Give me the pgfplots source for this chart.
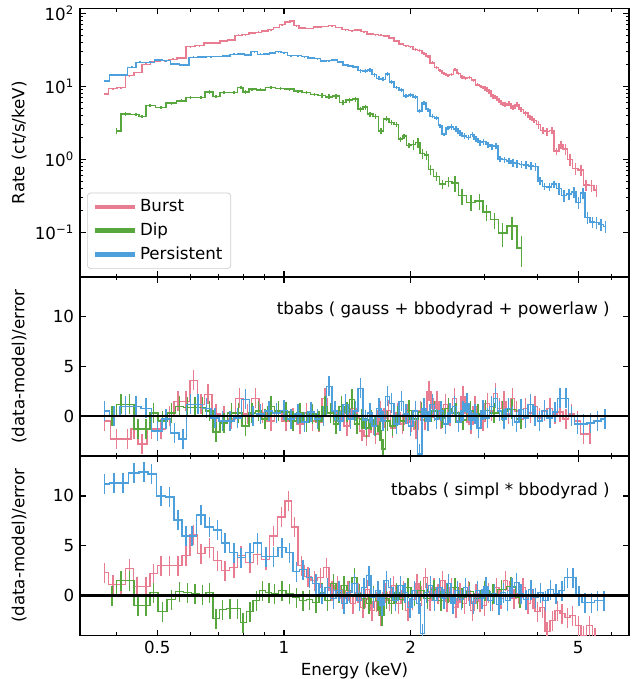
\documentclass[border=0pt]{standalone}
\usepackage{fontspec}
\setmainfont{DejaVu Sans}
\usepackage{pgfplots}
\pgfplotsset{compat=1.18}

\definecolor{cburst}{RGB}{232,125,145}
\definecolor{cdip}{RGB}{88,166,62}
\definecolor{cpers}{RGB}{77,160,220}
\definecolor{legframe}{RGB}{204,204,204}

\pgfplotsset{
  every axis/.append style={
    scale only axis, width=329.4pt,
    xmin=0.3276, xmax=6.6,
    tick align=inside,
    major tick length=3.5pt, minor tick length=2pt,
    axis line style={line width=0.8pt},
    every tick/.append style={black, line width=0.8pt},
    every minor tick/.append style={line width=0.6pt},
  },
  sline/.style={const plot mark mid, mark=none, line width=0.9pt,
    error bars/y dir=both, error bars/error mark=none,
    error bars/error bar style={line width=0.9pt}},
}

\begin{document}
\begin{tikzpicture}
\useasboundingbox (-48pt,-26.1pt) rectangle (330.6pt,381.3pt);

% ---------- top: count rate spectra ----------
\begin{axis}[at={(0,215.1pt)}, height=161.2pt,
  xmode=log, ymode=log, ymin=0.0247, ymax=117,
  xtick={0.5,1,2,5}, minor xtick={0.4,0.6,0.7,0.8,0.9,3,4,6},
  xticklabels={},
  ytick={0.1,1,10,100},
  yticklabels={10\textsuperscript{−1},10\textsuperscript{0},10\textsuperscript{1},10\textsuperscript{2}},
  ylabel={Rate (ct/s/keV)},
  ylabel style={at={(axis description cs:-0.111,0.5)}, anchor=center},
  legend image code/.code={\draw[line width=2.6pt] (0pt,0pt) -- (24pt,0pt);},
  legend cell align=left,
  legend style={at={(0.0128,0.03)}, anchor=south west, draw=legframe,
    rounded corners=2pt, fill=white, fill opacity=0.8, text opacity=1,
    inner xsep=3pt, inner ysep=2pt, row sep=1.2pt},
]
\addplot[sline, cburst, error bars/y explicit relative] table[y error index=2] {
0.375 7.9 0.03
0.392 9.3 0.03
0.41 9.6 0.03
0.43 14.0 0.03
0.45 15.5 0.03
0.47 20.0 0.03
0.495 22.0 0.03
0.52 22.5 0.03
0.545 23.5 0.03
0.57 24.5 0.03
0.60 35.0 0.03
0.63 36.0 0.03
0.66 39.0 0.03
0.69 39.5 0.03
0.72 42.0 0.03
0.75 43.0 0.03
0.78 50.0 0.03
0.81 51.0 0.03
0.84 54.0 0.03
0.87 55.0 0.03
0.90 57.0 0.03
0.93 60.0 0.03
0.96 64.0 0.03
0.99 70.0 0.03
1.02 76.0 0.03
1.045 78.0 0.03
1.07 68.0 0.03
1.10 63 0.03
1.15 62 0.03
1.20 65 0.03
1.25 66 0.03
1.30 68 0.03
1.35 64 0.03
1.40 60 0.03
1.45 58 0.03
1.50 59 0.03
1.55 56 0.03
1.60 52 0.03
1.65 51 0.03
1.70 50 0.03
1.75 49 0.03
1.80 46 0.03
1.85 42 0.03
1.90 38 0.03
1.95 36 0.03
2.00 35 0.03
2.05 32 0.05
2.10 31 0.05
2.15 28 0.05
2.20 26 0.05
2.25 21 0.05
2.30 18 0.05
2.35 16.5 0.05
2.40 15 0.05
2.45 14 0.05
2.50 14.5 0.05
2.55 17 0.05
2.60 15 0.05
2.65 13.5 0.05
2.70 13 0.05
2.76 13.2 0.05
2.82 12.2 0.05
2.88 10.5 0.05
2.94 10 0.05
3.00 9.5 0.08
3.07 8.6 0.08
3.14 7.4 0.08
3.21 6.8 0.08
3.28 6.0 0.08
3.35 5.6 0.08
3.42 5.8 0.08
3.50 5.1 0.08
3.58 5.6 0.08
3.66 4.8 0.08
3.75 4.3 0.08
3.84 3.8 0.08
3.93 3.4 0.08
4.02 3.0 0.12
4.12 2.5 0.12
4.22 2.4 0.12
4.33 2.5 0.12
4.44 1.3 0.12
4.55 1.6 0.12
4.66 1.4 0.18
4.78 1.0 0.18
4.92 0.75 0.18
5.07 0.72 0.18
5.22 0.45 0.18
5.38 0.44 0.18
5.53 0.38 0.18
};
\addlegendentry{Burst}
\addplot[sline, cdip, error bars/y explicit relative] table[y error index=2] {
0.40 2.46 0.08
0.42 4.2 0.05
0.445 4.1 0.05
0.46 3.9 0.05
0.48 5.5 0.05
0.51 5.15 0.05
0.54 5.9 0.05
0.57 6.35 0.05
0.60 7.0 0.05
0.635 7.1 0.05
0.665 8.4 0.05
0.69 7.3 0.05
0.72 8.2 0.05
0.76 8.3 0.05
0.79 9.7 0.05
0.81 8.4 0.05
0.84 9.2 0.05
0.88 9.0 0.05
0.93 9.7 0.05
0.98 9.3 0.05
1.03 9.2 0.05
1.08 8.6 0.05
1.13 8.3 0.05
1.18 7.8 0.05
1.23 7.5 0.08
1.28 7.2 0.08
1.33 7.4 0.08
1.38 6.0 0.08
1.43 6.5 0.08
1.48 6.7 0.08
1.52 4.9 0.08
1.56 5.2 0.08
1.60 4.2 0.08
1.65 3.9 0.08
1.70 2.46 0.08
1.75 3.6 0.08
1.80 3.2 0.08
1.85 3.0 0.08
1.89 1.9 0.08
1.93 2.1 0.08
1.98 1.55 0.08
2.03 1.6 0.15
2.08 1.7 0.15
2.13 1.2 0.15
2.18 1.15 0.15
2.23 0.73 0.15
2.30 0.59 0.15
2.38 0.46 0.15
2.46 0.50 0.15
2.55 0.48 0.25
2.65 0.32 0.25
2.78 0.26 0.25
2.91 0.27 0.25
3.03 0.19 0.25
3.16 0.15 0.25
3.30 0.099 0.35
3.48 0.123 0.35
3.67 0.062 0.45
};
\addlegendentry{Dip}
\addplot[sline, cpers, error bars/y explicit relative] table[y error index=2] {
0.375 11.9 0.03
0.395 14.3 0.03
0.415 14.3 0.03
0.435 18.2 0.03
0.455 21.3 0.03
0.48 21.3 0.03
0.505 22.9 0.03
0.525 22.5 0.03
0.55 20.2 0.03
0.58 19.6 0.03
0.61 25.0 0.03
0.64 25.2 0.03
0.67 25.5 0.03
0.70 25.7 0.03
0.73 26.0 0.03
0.76 27.5 0.03
0.79 27.7 0.03
0.82 27.0 0.03
0.85 29.8 0.03
0.88 27.5 0.03
0.91 27.7 0.03
0.94 28.5 0.03
0.97 29.8 0.03
1.00 29.0 0.03
1.04 26.3 0.03
1.08 26.3 0.03
1.12 25.5 0.03
1.16 24.5 0.03
1.20 24.0 0.03
1.24 22.4 0.03
1.28 22.6 0.03
1.32 22.8 0.03
1.36 21.5 0.03
1.40 19.5 0.03
1.44 19.0 0.03
1.48 18.5 0.03
1.52 16.4 0.06
1.56 16.2 0.06
1.60 16.8 0.06
1.64 14.5 0.06
1.68 12.9 0.06
1.72 12.5 0.06
1.76 14.8 0.06
1.80 11.5 0.06
1.85 9.7 0.06
1.90 9.0 0.06
1.95 7.4 0.06
2.00 7.6 0.06
2.05 7.2 0.06
2.10 4.6 0.06
2.15 6.0 0.06
2.20 4.8 0.06
2.25 3.9 0.06
2.30 3.7 0.06
2.35 2.9 0.06
2.40 2.2 0.06
2.45 2.7 0.06
2.50 2.8 0.09
2.56 2.6 0.09
2.62 2.3 0.09
2.68 2.1 0.09
2.74 2.0 0.09
2.80 2.2 0.09
2.86 1.9 0.09
2.92 1.7 0.09
2.98 1.75 0.09
3.05 1.6 0.09
3.12 1.5 0.09
3.19 1.55 0.09
3.26 1.02 0.09
3.34 1.0 0.09
3.42 0.95 0.09
3.50 0.9 0.12
3.58 0.88 0.12
3.67 0.86 0.12
3.76 0.84 0.12
3.86 0.82 0.12
3.96 0.8 0.12
4.06 0.51 0.12
4.16 0.43 0.12
4.27 0.42 0.12
4.38 0.46 0.12
4.50 0.40 0.18
4.62 0.32 0.18
4.75 0.34 0.18
4.88 0.36 0.18
5.00 0.26 0.18
5.13 0.35 0.18
5.26 0.16 0.18
5.40 0.14 0.18
5.53 0.137 0.18
5.67 0.13 0.18
5.80 0.122 0.18
};
\addlegendentry{Persistent}
\end{axis}

% ---------- middle: residuals, gauss + bbodyrad + powerlaw ----------
\begin{axis}[at={(0,107.7pt)}, height=107.4pt,
  xmode=log, ymin=-4, ymax=14,
  xtick={0.5,1,2,5}, minor xtick={0.4,0.6,0.7,0.8,0.9,3,4,6},
  xticklabels={},
  ytick={0,5,10}, yticklabels={0,5,10},
  ylabel={(data-model)/error},
  ylabel style={at={(axis description cs:-0.111,0.5)}, anchor=center},
]
\addplot[sline, cburst, error bars/y fixed=1] table {
0.375 -0.5
0.40 -2.3
0.425 -2.3
0.44 -1.3
0.46 -2.8
0.485 -1.3
0.51 -1.3
0.535 0.0
0.56 1.5
0.585 1.5
0.61 3.6
0.635 1.2
0.66 2.2
0.69 0.2
0.72 0.0
0.75 -0.3
0.785 1.8
0.82 0.2
0.855 1.8
0.89 0.3
0.93 -0.5
0.97 0.5
1.01 -0.5
1.05 -0.2
1.09 -0.8
1.13 0.3
1.17 -0.5
1.21 -0.6
1.25 1.8
1.29 0.3
1.33 -0.5
1.37 0.5
1.41 -1.0
1.45 0.8
1.49 -0.2
1.53 -1.5
1.57 -2.0
1.61 -0.7
1.65 -1.8
1.69 0.5
1.73 -0.2
1.77 0.6
1.81 -1.2
1.86 0.3
1.91 -0.8
1.96 0.2
2.01 -0.6
2.06 -1.3
2.11 0.5
2.16 -0.4
2.21 2.5
2.26 0.8
2.31 1.5
2.36 -0.3
2.42 1.2
2.48 0.0
2.54 1.8
2.60 -0.5
2.66 2.0
2.72 0.3
2.78 -0.8
2.84 1.0
2.90 0.0
2.97 -0.5
3.04 1.3
3.11 0.5
3.18 2.3
3.25 0.8
3.33 1.5
3.41 0.2
3.49 1.8
3.57 0.5
3.66 -0.3
3.75 0.8
3.85 0.3
3.95 1.0
4.05 -0.2
4.16 0.5
4.28 0.8
4.40 0.2
4.53 0.4
4.67 -0.3
4.82 0.2
4.98 -0.5
5.15 -1.8
5.33 -1.8
};
\addplot[sline, cdip, error bars/y fixed=1] table {
0.39 0.0
0.41 1.2
0.43 1.2
0.45 -1.3
0.47 -1.3
0.49 0.3
0.515 -0.5
0.54 0.3
0.565 1.0
0.59 0.9
0.615 0.9
0.64 0.9
0.665 0.5
0.69 -1.6
0.72 -0.7
0.75 0.3
0.78 0.3
0.81 -1.0
0.84 0.3
0.87 0.5
0.90 -0.3
0.93 1.0
0.97 0.5
1.01 0.4
1.05 -0.5
1.09 0.3
1.13 -0.6
1.17 0.2
1.21 -0.5
1.25 1.0
1.29 0.3
1.33 -0.8
1.37 1.0
1.41 0.4
1.45 1.7
1.49 -0.8
1.53 -0.3
1.57 -1.2
1.61 -0.4
1.65 -1.0
1.69 -1.5
1.72 -3.3
1.76 -0.5
1.81 -1.0
1.86 0.0
1.92 -0.5
1.98 0.6
2.05 -0.3
2.12 0.4
2.20 -0.5
2.28 0.5
2.37 -0.2
2.46 0.8
2.56 0.3
2.66 -0.4
2.77 0.5
2.89 0.2
3.01 0.6
3.15 0.3
3.30 0.5
3.48 0.7
3.66 -0.3
};
\addplot[sline, cpers, error bars/y fixed=1] table {
0.375 0.5
0.395 0.0
0.42 1.0
0.445 1.0
0.47 0.8
0.50 -1.5
0.525 -0.3
0.55 -1.7
0.575 -2.3
0.60 1.2
0.625 1.2
0.655 0.8
0.685 -0.2
0.715 -0.5
0.745 -0.5
0.775 -0.2
0.81 1.7
0.845 0.0
0.88 0.2
0.92 0.5
0.96 0.3
1.00 0.6
1.04 -0.3
1.08 0.2
1.12 -0.6
1.16 0.4
1.20 -0.3
1.24 0.0
1.28 3.0
1.32 0.5
1.36 -0.5
1.40 1.2
1.44 -0.3
1.48 0.5
1.52 2.8
1.56 -0.4
1.60 0.3
1.64 -1.0
1.68 0.8
1.72 -0.5
1.76 2.0
1.80 1.3
1.85 -0.8
1.90 1.5
1.95 0.2
2.00 -1.0
2.05 0.5
2.10 -3.8
2.15 0.8
2.20 -0.5
2.25 1.2
2.30 -0.3
2.36 0.5
2.42 -0.8
2.48 0.3
2.54 1.0
2.60 -0.6
2.66 0.5
2.72 1.3
2.78 -0.4
2.84 0.2
2.90 -1.2
2.97 0.6
3.04 -0.2
3.11 1.0
3.18 1.8
3.25 0.5
3.33 -0.3
3.41 0.8
3.49 0.0
3.57 -0.6
3.66 0.7
3.75 -0.2
3.85 1.2
3.95 0.0
4.05 -0.5
4.16 0.6
4.28 -0.2
4.40 0.4
4.53 1.8
4.67 1.8
4.82 0.0
4.98 -0.8
5.15 -0.8
5.35 -0.7
5.55 -0.5
5.78 -0.3
};
\addplot[black, line width=1.5pt] coordinates {(0.3,0) (7,0)};
\node[anchor=east, inner sep=0pt] at (rel axis cs:0.9654,0.817) {tbabs ( gauss + bbodyrad + powerlaw )};
\end{axis}

% ---------- bottom: residuals, simpl * bbodyrad ----------
\begin{axis}[at={(0,0)}, height=107.7pt,
  xmode=log, ymin=-4, ymax=14,
  xtick={0.5,1,2,5}, minor xtick={0.4,0.6,0.7,0.8,0.9,3,4,6},
  xticklabels={0.5,1,2,5},
  ytick={0,5,10}, yticklabels={0,5,10},
  ylabel={(data-model)/error},
  ylabel style={at={(axis description cs:-0.111,0.5)}, anchor=center},
  xlabel={Energy (keV)},
  xlabel style={at={(axis description cs:0.5,0)}, anchor=base, yshift=-23.7pt, inner sep=0pt},
]
\addplot[sline, cburst, error bars/y fixed=1] table {
0.375 2.3
0.392 1.1
0.41 1.1
0.43 2.7
0.448 0.9
0.47 0.9
0.49 2.2
0.51 3.0
0.535 3.0
0.56 3.0
0.585 4.0
0.61 6.1
0.635 4.2
0.665 4.8
0.695 3.5
0.725 2.5
0.76 2.8
0.79 4.0
0.83 3.3
0.865 4.1
0.905 3.6
0.945 6.0
0.985 7.9
1.025 9.5
1.06 6.9
1.10 3.0
1.14 1.9
1.18 1.5
1.22 1.8
1.26 2.8
1.30 0.5
1.34 1.0
1.38 -0.3
1.42 0.5
1.46 -0.8
1.50 0.3
1.54 -1.2
1.58 0.6
1.62 -1.5
1.66 -0.6
1.70 -2.0
1.74 0.3
1.78 -0.5
1.82 1.0
1.87 -0.8
1.92 0.5
1.97 -1.5
2.02 -0.4
2.07 1.2
2.12 0.0
2.17 1.8
2.22 -0.5
2.27 0.8
2.32 0.2
2.38 1.5
2.44 -0.6
2.50 0.8
2.56 -1.2
2.62 0.3
2.68 -0.8
2.74 0.5
2.80 -1.5
2.86 0.2
2.92 -0.6
2.99 -1.0
3.06 0.3
3.13 -0.5
3.20 0.8
3.28 -0.3
3.36 1.5
3.44 0.5
3.52 -0.3
3.61 0.2
3.70 0.8
3.80 -0.8
3.90 -0.3
4.00 -1.6
4.11 -1.2
4.22 -3.6
4.34 -2.5
4.46 -1.5
4.58 -1.8
4.71 -2.2
4.85 -2.0
5.00 -3.0
5.15 -4.0
5.32 -3.0
5.48 -4.2
};
\addplot[sline, cdip, error bars/y fixed=1] table {
0.39 0.0
0.41 1.5
0.43 1.5
0.45 -1.0
0.47 -1.0
0.49 0.3
0.515 -1.6
0.54 -0.4
0.565 0.4
0.59 0.3
0.615 0.2
0.64 0.1
0.665 0.3
0.69 -2.3
0.715 -1.4
0.745 -1.3
0.775 -1.3
0.80 -2.7
0.83 -1.6
0.86 -0.5
0.89 0.5
0.92 0.3
0.95 0.2
0.99 0.5
1.03 0.2
1.07 -0.2
1.11 -0.5
1.15 -0.4
1.19 -0.7
1.23 0.3
1.27 -0.5
1.31 1.2
1.35 0.3
1.39 1.0
1.43 0.5
1.47 1.8
1.51 0.2
1.55 -0.3
1.59 -0.8
1.63 0.0
1.67 -0.5
1.71 -2.0
1.75 -0.3
1.80 -0.8
1.85 0.3
1.91 -0.4
1.97 0.8
2.04 0.0
2.11 0.5
2.19 -0.3
2.27 0.6
2.36 -0.5
2.45 0.3
2.55 0.8
2.65 -0.2
2.76 0.4
2.88 -0.3
3.00 0.5
3.14 0.2
3.29 0.6
3.46 0.9
3.64 -0.2
};
\addplot[sline, cpers, error bars/y fixed=1] table {
0.375 11.2
0.395 11.3
0.415 11.3
0.44 12.3
0.465 12.4
0.485 12.2
0.51 10.0
0.535 9.9
0.56 7.6
0.585 6.0
0.605 6.0
0.635 8.1
0.665 6.9
0.695 6.6
0.725 5.3
0.76 4.3
0.79 3.8
0.83 4.3
0.865 5.3
0.905 3.9
0.945 3.9
0.99 4.8
1.03 4.3
1.07 2.4
1.11 2.6
1.15 1.8
1.19 1.2
1.23 0.2
1.27 0.8
1.31 -0.3
1.35 0.5
1.39 -0.8
1.43 0.3
1.47 1.2
1.51 -0.5
1.55 0.8
1.59 2.0
1.63 -0.2
1.67 0.5
1.71 -1.0
1.75 1.5
1.79 0.8
1.84 -0.5
1.89 1.0
1.94 0.3
1.99 -1.2
2.04 0.5
2.09 -0.8
2.13 -3.8
2.18 0.3
2.23 1.0
2.28 -0.5
2.34 0.8
2.40 -0.3
2.46 1.2
2.52 -0.8
2.58 0.5
2.64 -0.4
2.70 0.8
2.76 0.0
2.82 -0.8
2.88 0.5
2.95 -0.3
3.02 0.9
3.09 -0.5
3.16 0.2
3.24 -0.9
3.32 0.3
3.40 -0.5
3.48 0.8
3.57 1.3
3.66 0.2
3.76 -0.4
3.86 0.6
3.96 -0.2
4.07 0.3
4.18 -0.5
4.30 0.6
4.43 0.2
4.57 0.5
4.71 1.8
4.86 1.8
5.02 0.0
5.19 -0.7
5.37 -0.7
5.56 -0.5
5.76 -0.5
};
\addplot[black, line width=1.5pt] coordinates {(0.3,0) (7,0)};
\node[anchor=east, inner sep=0pt] at (rel axis cs:0.9654,0.806) {tbabs ( simpl * bbodyrad )};
\end{axis}
\end{tikzpicture}
\end{document}
